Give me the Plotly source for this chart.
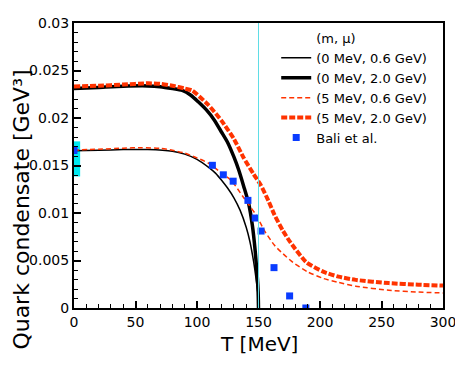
import plotly.graph_objects as go

# temperature grids [MeV] and condensate values [GeV^3]
T_m0_mu06 = [0, 20, 40, 60, 80, 90, 100, 110, 115, 120, 125, 130, 135, 140, 143, 146, 148, 149.5, 150]
c_m0_mu06 = [0.01655, 0.0166, 0.01668, 0.01668, 0.0165, 0.0162, 0.01565, 0.01475, 0.0142, 0.01345,
             0.0126, 0.0116, 0.0103, 0.0085, 0.0070, 0.0049, 0.0031, 0.0015, 0.0]

T_m0_mu20 = [0, 20, 40, 60, 70, 80, 88, 95, 101, 108, 114, 120, 125, 130, 134, 138, 142, 145,
             147.3, 149, 149.7, 150]
c_m0_mu20 = [0.0231, 0.02322, 0.02335, 0.02338, 0.0233, 0.0231, 0.0229, 0.0224, 0.0217, 0.0208,
             0.0198, 0.0185, 0.0174, 0.0159, 0.0145, 0.0128, 0.0110, 0.0087, 0.0060, 0.0033,
             0.0017, 0.0]

T_m5_mu06 = [0, 20, 40, 55, 70, 80, 90, 100, 110, 120, 128, 138, 148, 155, 163, 170, 178, 190,
             203, 215, 229, 256, 280, 300]
c_m5_mu06 = [0.01662, 0.01672, 0.01682, 0.01688, 0.0168, 0.0166, 0.0163, 0.0158, 0.0152, 0.0142,
             0.0134, 0.0116, 0.0098, 0.0081, 0.0066, 0.0057, 0.0048, 0.0038, 0.0031, 0.0027,
             0.0023, 0.00187, 0.00168, 0.00158]

T_m5_mu20 = [0, 20, 40, 60, 70, 80, 90, 96, 109, 120, 130, 138, 146, 152, 158, 163, 170, 176,
             189, 203, 215, 229, 256, 280, 300]
c_m5_mu20 = [0.02332, 0.0234, 0.02352, 0.02365, 0.0236, 0.0234, 0.0231, 0.0229, 0.0214, 0.0197,
             0.0178, 0.0158, 0.0141, 0.0129, 0.0113, 0.0098, 0.0081, 0.0069, 0.0048, 0.0038,
             0.0033, 0.00296, 0.00262, 0.00245, 0.00236]

# lattice data (Bali et al.)
bali_T = [0, 112.5, 121.4, 129.4, 141.4, 147.3, 152.1, 162.6, 175.3, 188.5]
bali_c = [0.01658, 0.01502, 0.01402, 0.01335, 0.01133, 0.00947, 0.0081, 0.00425, 0.00127, 0.0]

# T=0 lattice band
band_T = 0
band_lo = 0.01385
band_hi = 0.01754

Tc = 150

font = "DejaVu Sans"
red = "#ff3300"

fig = go.Figure()

fig.add_trace(go.Bar(x=[band_T], y=[band_hi - band_lo], base=[band_lo], width=[5], offset=0,
                     marker=dict(color="#00e8f0", line_width=0), showlegend=False))

# dummy entry used as the legend header
fig.add_trace(go.Scatter(x=[None], y=[None], mode="lines", name="(m, μ)",
                         line=dict(color="rgba(0,0,0,0)", width=1)))
fig.add_trace(go.Scatter(x=T_m0_mu06, y=c_m0_mu06, mode="lines", name="(0 MeV, 0.6 GeV)",
                         line=dict(color="black", width=1.5, shape="spline", smoothing=0.6)))
fig.add_trace(go.Scatter(x=T_m0_mu20, y=c_m0_mu20, mode="lines", name="(0 MeV, 2.0 GeV)",
                         line=dict(color="black", width=3.5, shape="spline", smoothing=0.6)))
fig.add_trace(go.Scatter(x=T_m5_mu06, y=c_m5_mu06, mode="lines", name="(5 MeV, 0.6 GeV)",
                         line=dict(color=red, width=1.5, dash="5px,3px", shape="spline", smoothing=0.6)))
fig.add_trace(go.Scatter(x=T_m5_mu20, y=c_m5_mu20, mode="lines", name="(5 MeV, 2.0 GeV)",
                         line=dict(color=red, width=4, dash="6px,2px", shape="spline", smoothing=0.6)))
fig.add_trace(go.Scatter(x=bali_T, y=bali_c, mode="markers", name="Bali et al.",
                         marker=dict(symbol="square", size=7, color="#0a3cff")))

fig.add_vline(x=Tc, line=dict(color="#5fdde6", width=1), layer="above")

axis_common = dict(showline=True, linecolor="black", linewidth=2, mirror=True,
                   ticks="inside", ticklen=7, tickwidth=1.5, tickcolor="black",
                   showgrid=False, zeroline=False,
                   tickfont=dict(family=font, size=14, color="black"))

fig.update_xaxes(range=[0, 300], dtick=50,
                 minor=dict(dtick=10, ticks="inside", ticklen=4, tickwidth=1, tickcolor="black"),
                 **axis_common)
fig.update_yaxes(range=[0, 0.03], dtick=0.005,
                 minor=dict(dtick=0.001, ticks="inside", ticklen=4, tickwidth=1, tickcolor="black"),
                 **axis_common)

fig.add_annotation(text="Quark condensate [GeV³]", xref="paper", yref="paper",
                   x=-0.143, y=0.346, textangle=-90, showarrow=False,
                   xanchor="center", yanchor="middle",
                   font=dict(family=font, size=22, color="black"))
fig.add_annotation(text="T [MeV]", xref="paper", yref="paper",
                   x=0.5, y=-0.125, showarrow=False, xanchor="center", yanchor="middle",
                   font=dict(family=font, size=20, color="black"))

# the page adds an 8px body margin, so the figure is drawn 8px smaller
fig.update_layout(
    width=455, height=363,
    margin=dict(l=66, r=16, t=7, b=63),
    paper_bgcolor="white", plot_bgcolor="white",
    showlegend=True,
    legend=dict(x=0.548, y=1.0, xanchor="left", yanchor="top",
                bgcolor="rgba(0,0,0,0)", font=dict(family=font, size=13, color="black")),
)

fig.write_html("out.html")
